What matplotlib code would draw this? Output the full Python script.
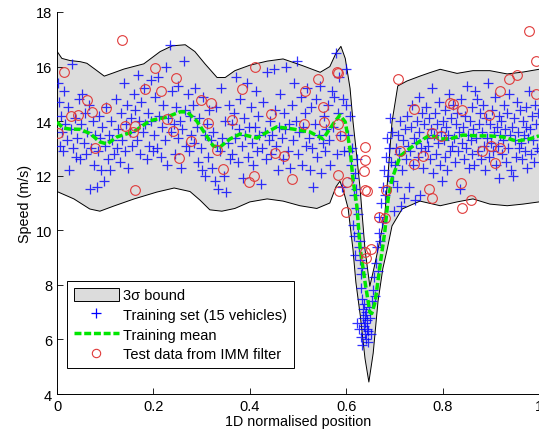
import numpy as np
import matplotlib
matplotlib.use('Agg')
import matplotlib.pyplot as plt
from matplotlib.patches import Patch
from matplotlib.lines import Line2D
from matplotlib.ticker import FormatStrFormatter

plt.rcParams['font.family'] = ['Liberation Sans', 'DejaVu Sans']

# 3 sigma bound (upper / lower curves)
upper_pos = [0.000, 0.010, 0.027, 0.048, 0.062, 0.079, 0.098, 0.114, 0.139, 0.180,
             0.214, 0.239, 0.266, 0.286, 0.307, 0.332, 0.349, 0.369, 0.400, 0.436,
             0.469, 0.510, 0.546, 0.566, 0.579, 0.589, 0.598, 0.608, 0.614, 0.622,
             0.629, 0.633, 0.639, 0.649, 0.660, 0.670, 0.680, 0.687, 0.695, 0.707,
             0.726, 0.753, 0.774, 0.795, 0.830, 0.863, 0.898, 0.934, 0.967, 1.000]
upper_speed = [16.56, 16.30, 16.22, 16.18, 16.12, 15.90, 15.65, 15.75, 15.91, 16.10,
               16.55, 16.76, 16.80, 16.55, 16.10, 15.60, 15.60, 15.85, 16.05, 16.20,
               16.28, 16.03, 15.79, 16.00, 16.50, 16.74, 16.30, 15.20, 14.00, 12.70,
               11.50, 10.60, 9.30, 7.95, 8.80, 9.65, 10.55, 12.10, 13.97, 15.29,
               15.47, 15.65, 15.78, 15.90, 15.75, 15.85, 15.85, 15.73, 15.80, 15.90]
lower_pos = [0.000, 0.035, 0.068, 0.089, 0.118, 0.160, 0.207, 0.243, 0.276, 0.297,
             0.317, 0.342, 0.369, 0.400, 0.436, 0.469, 0.504, 0.539, 0.566, 0.579,
             0.587, 0.595, 0.604, 0.614, 0.620, 0.629, 0.639, 0.647, 0.656, 0.666,
             0.676, 0.685, 0.695, 0.716, 0.753, 0.795, 0.830, 0.863, 0.898, 0.934,
             0.967, 1.000]
lower_speed = [11.42, 11.15, 10.78, 10.70, 10.89, 11.15, 11.40, 11.55, 11.42, 11.10,
               10.75, 10.70, 10.80, 11.04, 11.15, 11.07, 10.90, 10.80, 11.00, 11.60,
               11.80, 11.40, 10.80, 9.30, 8.10, 6.90, 5.30, 4.44, 5.50, 7.40,
               8.60, 9.30, 10.16, 10.78, 11.07, 10.90, 11.04, 11.15, 10.96, 10.90,
               10.96, 11.04]

# training mean
mean_pos = [0.000, 0.012, 0.027, 0.048, 0.068, 0.089, 0.104, 0.124, 0.160, 0.193,
            0.228, 0.255, 0.270, 0.290, 0.305, 0.324, 0.338, 0.359, 0.380, 0.415,
            0.436, 0.456, 0.490, 0.525, 0.552, 0.573, 0.587, 0.598, 0.608, 0.614,
            0.622, 0.629, 0.639, 0.649, 0.653, 0.660, 0.670, 0.680, 0.687, 0.695,
            0.712, 0.732, 0.753, 0.774, 0.795, 0.815, 0.842, 0.871, 0.898, 0.925,
            0.954, 0.981, 1.000]
mean_speed = [13.97, 13.75, 13.71, 13.70, 13.55, 13.24, 13.16, 13.42, 13.62, 14.02,
              14.15, 14.34, 14.34, 14.00, 13.60, 13.09, 13.05, 13.35, 13.53, 13.38,
              13.60, 13.79, 13.71, 13.60, 13.35, 13.90, 14.22, 13.97, 12.98, 11.88,
              10.90, 9.32, 8.11, 7.00, 6.95, 7.37, 8.69, 9.94, 11.15, 11.88,
              12.72, 13.00, 13.27, 13.49, 13.35, 13.35, 13.49, 13.46, 13.46, 13.42,
              13.27, 13.35, 13.46]

# training set (15 vehicles)
train_pos = [
    0.002, 0.004, 0.006, 0.008, 0.010, 0.012, 0.014, 0.017, 0.020, 0.022, 0.025, 0.028, 0.031, 0.034, 0.037, 0.039,
    0.042, 0.045, 0.047, 0.050, 0.052, 0.055, 0.058, 0.060, 0.063, 0.066, 0.068, 0.071, 0.074, 0.076, 0.079,
    0.082, 0.084, 0.087, 0.089, 0.092, 0.094, 0.097, 0.099, 0.102, 0.105, 0.107, 0.110, 0.113, 0.115, 0.118,
    0.122, 0.124, 0.127, 0.130, 0.132, 0.135, 0.138, 0.140, 0.143, 0.146, 0.148, 0.151, 0.154, 0.156, 0.159,
    0.162, 0.165, 0.167, 0.170, 0.172, 0.175, 0.178, 0.180, 0.183, 0.186, 0.188, 0.191, 0.194, 0.196, 0.199,
    0.202, 0.204, 0.207, 0.210, 0.212, 0.215, 0.218, 0.220, 0.223, 0.226, 0.228, 0.231, 0.234, 0.236, 0.239,
    0.242, 0.244, 0.247, 0.250, 0.252, 0.255, 0.258, 0.260, 0.263, 0.266, 0.268, 0.271, 0.274, 0.276, 0.279,
    0.282, 0.284, 0.287, 0.290, 0.292, 0.295, 0.298, 0.300, 0.303, 0.306, 0.308, 0.311, 0.314, 0.316, 0.319,
    0.322, 0.324, 0.327, 0.330, 0.332, 0.335, 0.338, 0.340, 0.343, 0.346, 0.348, 0.351, 0.354, 0.356, 0.359,
    0.362, 0.364, 0.367, 0.370, 0.372, 0.375, 0.378, 0.380, 0.383, 0.386, 0.388, 0.391, 0.394, 0.396, 0.399,
    0.402, 0.404, 0.407, 0.410, 0.412, 0.415, 0.418, 0.420, 0.423, 0.426, 0.428, 0.431, 0.434, 0.436, 0.439,
    0.442, 0.444, 0.447, 0.450, 0.452, 0.455, 0.458, 0.460, 0.463, 0.466, 0.468, 0.471, 0.474, 0.476, 0.479,
    0.482, 0.484, 0.487, 0.490, 0.492, 0.495, 0.498, 0.500, 0.503, 0.506, 0.508, 0.511, 0.514, 0.516, 0.519,
    0.522, 0.524, 0.527, 0.530, 0.532, 0.535, 0.538, 0.540, 0.543, 0.546, 0.548, 0.551, 0.554, 0.556, 0.559,
    0.562, 0.564, 0.567, 0.570, 0.572, 0.575, 0.578, 0.580, 0.583, 0.586, 0.588, 0.591, 0.594, 0.596, 0.599,
    0.600, 0.603, 0.605, 0.607, 0.610, 0.612, 0.614, 0.616, 0.618, 0.620, 0.621, 0.615, 0.617, 0.619, 0.622,
    0.624, 0.625, 0.626, 0.628, 0.629, 0.630, 0.631, 0.632, 0.633, 0.634, 0.635, 0.636, 0.637, 0.638, 0.639,
    0.640, 0.641, 0.642, 0.643, 0.644, 0.645, 0.646, 0.648, 0.650, 0.652, 0.654, 0.627, 0.631, 0.623, 0.633,
    0.656, 0.658, 0.660, 0.662, 0.664, 0.665, 0.667, 0.668, 0.670, 0.672, 0.674, 0.676, 0.678, 0.680, 0.682,
    0.684, 0.686, 0.688, 0.690, 0.692, 0.695, 0.698, 0.700,
    0.701, 0.704, 0.706, 0.708, 0.710, 0.712, 0.714, 0.716, 0.718, 0.720,
    0.722, 0.724, 0.726, 0.728, 0.730, 0.732, 0.734, 0.736, 0.738, 0.740,
    0.742, 0.744, 0.746, 0.748, 0.750, 0.752, 0.754, 0.756, 0.758, 0.760,
    0.762, 0.764, 0.766, 0.768, 0.770, 0.772, 0.774, 0.776, 0.778, 0.780,
    0.782, 0.784, 0.786, 0.788, 0.790, 0.792, 0.794, 0.796, 0.798, 0.800,
    0.802, 0.804, 0.806, 0.808, 0.810, 0.812, 0.814, 0.816, 0.818, 0.820,
    0.822, 0.824, 0.826, 0.828, 0.830, 0.832, 0.834, 0.836, 0.838, 0.840,
    0.842, 0.844, 0.846, 0.848, 0.850, 0.852, 0.854, 0.856, 0.858, 0.860,
    0.862, 0.864, 0.866, 0.868, 0.870, 0.872, 0.874, 0.876, 0.878, 0.880,
    0.882, 0.884, 0.886, 0.888, 0.890, 0.892, 0.894, 0.896, 0.898, 0.900,
    0.902, 0.904, 0.906, 0.908, 0.910, 0.912, 0.914, 0.916, 0.918, 0.920,
    0.922, 0.924, 0.926, 0.928, 0.930, 0.932, 0.934, 0.936, 0.938, 0.940,
    0.942, 0.944, 0.946, 0.948, 0.950, 0.952, 0.954, 0.956, 0.958, 0.960,
    0.962, 0.964, 0.966, 0.968, 0.970, 0.972, 0.974, 0.976, 0.978, 0.980,
    0.982, 0.984, 0.986, 0.988, 0.990, 0.992, 0.994, 0.996, 0.998, 0.999,
]
train_speed = [
    15.4, 14.7, 13.1, 14.2, 13.6, 12.9, 15.1, 13.9, 13.3, 14.5, 12.2, 13.7, 16.1, 13.0, 14.1, 12.7,
    13.4, 14.8, 12.6, 13.9, 15.0, 13.2, 14.3, 12.8, 13.6, 14.6, 11.5, 13.0, 14.0, 12.4, 13.5,
    11.6, 12.9, 14.2, 13.4, 12.2, 13.8, 11.8, 13.1, 14.5, 12.6, 13.5, 12.2, 14.0, 13.3, 12.8,
    14.8, 13.0, 13.7, 12.5, 14.3, 13.3, 15.4, 12.9, 13.9, 14.6, 12.3, 13.6, 14.1, 13.1, 15.0,
    14.4, 13.3, 15.7, 14.0, 12.8, 14.7, 13.6, 15.2, 13.9, 12.6, 14.3, 13.1, 15.5, 14.0, 12.9,
    13.5, 14.9, 13.0, 15.6, 14.2, 12.7, 13.8, 14.6, 13.3, 16.0, 12.4, 14.1, 16.8, 13.6, 15.1,
    13.9, 12.8, 14.5, 13.4, 15.3, 14.0, 12.3, 13.7, 16.2, 14.4, 13.1, 15.0, 12.9, 14.2, 13.5,
    14.6, 13.2, 15.2, 13.8, 12.5, 14.1, 13.0, 12.2, 14.9, 13.5, 12.0, 13.9, 12.7, 14.4, 13.3,
    12.3, 13.6, 11.8, 14.5, 13.1, 11.5, 12.9, 15.2, 13.4, 12.0, 14.0, 11.4, 13.2, 14.6, 12.6,
    13.9, 12.8, 14.3, 13.4, 15.6, 12.5, 13.7, 14.8, 13.1, 11.9, 14.1, 13.5, 15.4, 12.7, 13.8,
    14.5, 13.2, 12.4, 13.8, 15.1, 12.9, 14.2, 13.5, 11.7, 13.0, 14.7, 13.6, 12.6, 15.8, 13.3,
    14.0, 12.8, 13.5, 15.9, 14.4, 13.1, 12.2, 13.8, 15.0, 13.4, 12.6, 14.3, 13.7, 16.0, 12.9,
    13.9, 12.3, 14.6, 13.3, 15.4, 14.0, 16.2, 12.8, 13.6, 14.9, 12.4, 13.8, 14.3, 13.1, 15.2,
    13.4, 12.2, 14.5, 13.0, 11.6, 13.9, 14.8, 12.7, 13.5, 15.3, 12.1, 13.2, 14.2, 12.9, 13.7,
    14.6, 13.3, 12.4, 15.1, 13.8, 14.9, 16.5, 12.8, 14.3, 15.6, 13.5, 11.6, 14.8, 12.9, 15.9,
    14.6, 13.5, 12.9, 14.2, 12.4, 13.0, 11.9, 11.3, 12.1, 10.8, 11.5, 10.2, 9.8, 9.1, 12.6,
    9.9, 10.6, 9.4, 8.9, 9.6, 8.4, 7.9, 8.6, 7.5, 7.1, 6.8, 7.3, 6.5, 6.2, 6.9,
    6.6, 6.0, 7.0, 6.4, 6.7, 5.9, 6.3, 7.2, 6.8, 6.2, 7.4, 6.4, 6.1, 6.6, 5.8,
    7.8, 8.3, 7.6, 8.8, 9.4, 8.5, 9.9, 10.5, 9.6, 11.0, 10.3, 11.6, 12.2, 11.3, 12.7,
    13.4, 12.0, 13.0, 14.1, 12.5, 13.6, 11.8, 10.7,
    12.4, 13.0, 11.6, 13.5, 12.8, 14.0, 10.9, 12.2, 13.3, 11.2,
    13.7, 12.6, 14.2, 13.1, 11.6, 12.9, 13.8, 14.6, 12.4, 13.4,
    11.1, 13.2, 14.0, 12.7, 13.6, 14.9, 11.3, 13.0, 14.3, 12.3,
    13.9, 12.9, 14.5, 13.4, 13.1, 14.1, 12.6, 13.7, 15.2, 12.1,
    13.5, 14.3, 12.8, 13.9, 13.2, 14.7, 12.4, 13.6, 11.8, 14.0,
    13.3, 12.7, 14.4, 13.8, 12.2, 13.5, 15.0, 12.9, 14.1, 13.1,
    14.6, 13.4, 12.5, 13.9, 14.3, 12.9, 13.6, 11.5, 14.8, 13.2,
    13.8, 12.6, 14.2, 13.0, 15.3, 13.5, 12.3, 14.0, 13.3, 12.8,
    14.5, 13.7, 12.4, 15.1, 13.4, 14.8, 12.9, 13.9, 14.3, 12.6,
    13.6, 14.6, 13.1, 12.2, 14.1, 13.4, 15.4, 12.7, 13.9, 13.2,
    14.4, 12.9, 13.6, 14.9, 12.4, 13.8, 13.1, 14.2, 11.9, 13.5,
    14.0, 12.8, 13.3, 14.6, 13.7, 12.5, 14.3, 13.0, 15.0, 13.5,
    12.2, 13.8, 12.0, 14.1, 13.3, 12.7, 14.7, 13.6, 13.0, 14.4,
    13.2, 12.6, 14.0, 13.5, 12.9, 14.5, 13.8, 12.3, 13.4, 15.1,
    13.7, 12.8, 14.2, 13.3, 12.5, 14.6, 13.9, 13.0, 14.3, 12.9,
]

# test data from IMM filter
test_pos = [0.134, 0.015, 0.203, 0.246, 0.183, 0.216, 0.062, 0.101, 0.073, 0.030,
            0.043, 0.299, 0.320, 0.228, 0.001, 0.140, 0.161, 0.157, 0.240, 0.313,
            0.363, 0.278, 0.079, 0.332, 0.254, 0.344, 0.409, 0.398, 0.162, 0.384,
            0.410, 0.444, 0.541, 0.580, 0.582, 0.514, 0.551, 0.512, 0.553, 0.582,
            0.589, 0.452, 0.470, 0.488, 0.639, 0.639, 0.636, 0.582, 0.602, 0.585,
            0.640, 0.644, 0.600, 0.668, 0.680, 0.640, 0.651, 0.641, 0.708, 0.741,
            0.815, 0.821, 0.840, 0.920, 0.937, 0.955, 0.980, 0.994, 0.994, 0.896,
            0.779, 0.796, 0.712, 0.759, 0.741, 0.881, 0.900, 0.920, 0.909, 0.839,
            0.772, 0.779, 0.859, 0.840, 0.683]
test_speed = [16.97, 15.81, 15.95, 15.59, 15.18, 15.12, 14.78, 14.47, 14.33, 14.18,
              14.23, 14.77, 14.68, 14.08, 13.55, 13.81, 13.83, 13.61, 13.63, 13.93,
              14.04, 13.27, 13.02, 12.94, 12.64, 12.25, 11.98, 11.76, 11.47, 15.17,
              15.98, 14.27, 15.56, 15.79, 15.76, 15.12, 14.51, 13.90, 13.96, 13.90,
              13.47, 12.82, 12.71, 11.89, 13.07, 12.58, 12.17, 12.03, 11.78, 11.45,
              11.49, 11.44, 10.68, 10.48, 10.45, 9.22, 9.32, 8.99, 15.55, 14.43,
              14.68, 14.63, 14.41, 15.09, 15.55, 15.69, 17.29, 16.20, 15.00, 14.21,
              13.57, 13.45, 12.92, 12.71, 12.43, 12.92, 13.08, 13.02, 12.46, 11.75,
              11.50, 11.20, 11.11, 10.81, 11.48]

fig = plt.figure(figsize=(5.39, 4.39), dpi=100)
ax = fig.add_axes([0.1058, 0.1002, 0.8942, 0.8702])

band_x = np.concatenate([upper_pos, lower_pos[::-1]])
band_y = np.concatenate([upper_speed, lower_speed[::-1]])
ax.fill(band_x, band_y, facecolor='#dcdcdc', edgecolor='none', zorder=1)
ax.plot(upper_pos, upper_speed, color='k', lw=0.7, zorder=2)
ax.plot(lower_pos, lower_speed, color='k', lw=0.7, zorder=2)

ax.plot(train_pos, train_speed, linestyle='none', marker='+', ms=7, mew=0.9,
        color='#0000ff', alpha=0.8, zorder=3)
ax.plot(mean_pos, mean_speed, color='#00e600', lw=2.5, linestyle=(0, (2, 0.8)), zorder=4)
ax.plot(test_pos, test_speed, linestyle='none', marker='o', ms=7, mew=0.8,
        mfc='none', mec='#e03a3a', zorder=5)

ax.set_xlim(0, 1)
ax.set_ylim(4, 18)
ax.set_xticks(np.arange(0, 1.01, 0.2))
ax.set_yticks(np.arange(4, 19, 2))
ax.xaxis.set_major_formatter(FormatStrFormatter('%g'))
ax.tick_params(direction='in', length=4, labelsize=10.5, width=0.6)
for s in ['top', 'right']:
    ax.spines[s].set_visible(False)
for s in ['left', 'bottom']:
    ax.spines[s].set_linewidth(0.7)
ax.set_xlabel('1D normalised position', fontsize=10.3, labelpad=1)
ax.set_ylabel('Speed (m/s)', fontsize=10.3, labelpad=3)

handles = [Patch(facecolor='#dcdcdc', edgecolor='k', lw=0.7),
           Line2D([], [], linestyle='none', marker='+', ms=7, mew=0.9, color='#0000ff'),
           Line2D([], [], color='#00e600', lw=2.5, linestyle=(0, (2, 0.8))),
           Line2D([], [], linestyle='none', marker='o', ms=6, mew=0.8, mfc='none', mec='#e03a3a')]
labels = ['3σ bound', 'Training set (15 vehicles)', 'Training mean', 'Test data from IMM filter']
leg = ax.legend(handles, labels, loc='lower left', bbox_to_anchor=(0.021, 0.068),
                borderaxespad=0, fontsize=10.5, fancybox=False, framealpha=1,
                edgecolor='k', handlelength=3.1, handleheight=1.0, handletextpad=0.3,
                labelspacing=0.36, borderpad=0.45, numpoints=1)
leg.get_frame().set_linewidth(0.7)

fig.savefig('out.png', dpi=100)
